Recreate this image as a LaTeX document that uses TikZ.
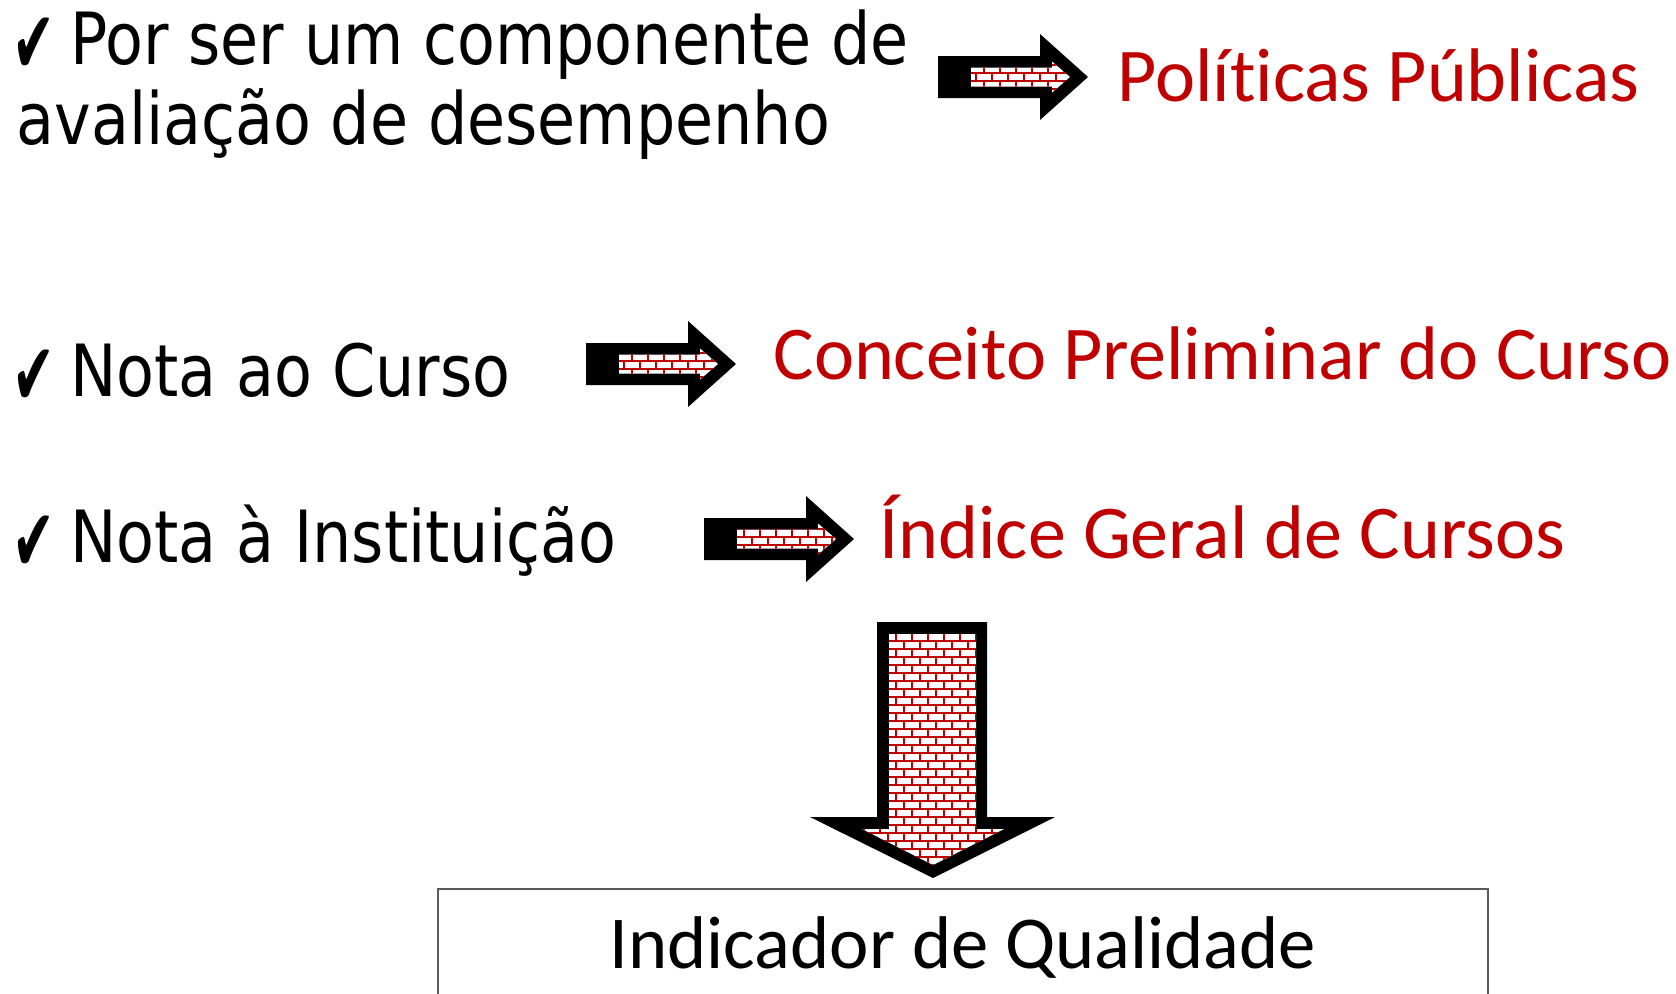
\documentclass[tikz,border=0pt]{standalone}
\usepackage{fontspec}
\setmainfont{DejaVu Sans}[FakeStretch=0.86]
\newfontfamily\redfont{Carlito}[Ligatures=NoCommon]
\newfontfamily\tickfont{DejaVu Sans}
\usepackage{tikz}
\usetikzlibrary{patterns}
\definecolor{myred}{RGB}{192, 0, 0}
\definecolor{boxgray}{RGB}{90, 90, 90}
\tikzset{every picture/.style={line width=0.75pt}}
\tikzset{
  blacktext/.style={anchor=base west, inner sep=0pt, font=\fontsize{54}{60}\selectfont},
  tick/.style={anchor=base west, inner sep=0pt, font=\tickfont\fontsize{66}{76}\selectfont},
  redtext/.style={anchor=base west, inner sep=0pt, text=myred, font=\redfont\fontsize{57}{64}\selectfont},
  boxtext/.style={anchor=base, inner sep=0pt, font=\redfont\fontsize{56}{64}\selectfont},
  arrowout/.style={fill=black, draw=none},
  arrowin/.style={fill=white, draw=none, postaction={pattern=brickwall, pattern color=myred}}
}
\pgfdeclarepatternformonly{brickwall}{\pgfqpoint{-1pt}{-1pt}}{\pgfqpoint{13pt}{13pt}}{\pgfqpoint{12pt}{12pt}}{
  \pgfsetlinewidth{1.9pt}
  \pgfpathmoveto{\pgfqpoint{0pt}{0pt}}\pgfpathlineto{\pgfqpoint{12pt}{0pt}}
  \pgfpathmoveto{\pgfqpoint{0pt}{6pt}}\pgfpathlineto{\pgfqpoint{12pt}{6pt}}
  \pgfpathmoveto{\pgfqpoint{0pt}{0pt}}\pgfpathlineto{\pgfqpoint{0pt}{6pt}}
  \pgfpathmoveto{\pgfqpoint{6pt}{6pt}}\pgfpathlineto{\pgfqpoint{6pt}{12pt}}
  \pgfusepath{stroke}
}

\begin{document}
\begin{tikzpicture}[x=0.75pt,y=0.75pt,yscale=-1,xscale=1]
\path[use as bounding box] (0,0) rectangle (1676,993);

%Shape: Right Arrow [id:politicas]
\draw  [arrowout] (938,56) -- (1040,56) -- (1040,34) -- (1088,77) -- (1040,120) -- (1040,98) -- (938,98) -- cycle ;
\draw  [arrowin] (971,67.5) -- (1052,67.5) -- (1052,61.5) -- (1070,77) -- (1052,92.5) -- (1052,86.5) -- (971,86.5) -- cycle ;
%Shape: Right Arrow [id:curso]
\draw  [arrowout] (586,343) -- (688,343) -- (688,321) -- (736,364) -- (688,407) -- (688,385) -- (586,385) -- cycle ;
\draw  [arrowin] (619,354.5) -- (700,354.5) -- (700,348.5) -- (718,364) -- (700,379.5) -- (700,373.5) -- (619,373.5) -- cycle ;
%Shape: Right Arrow [id:instituicao]
\draw  [arrowout] (704,518) -- (806,518) -- (806,496) -- (854,539) -- (806,582) -- (806,560) -- (704,560) -- cycle ;
\draw  [arrowin] (737,529.5) -- (818,529.5) -- (818,523.5) -- (836,539) -- (818,554.5) -- (818,548.5) -- (737,548.5) -- cycle ;
%Shape: Down Arrow [id:qualidade]
\draw  [arrowout] (877,622) -- (987,622) -- (987,817) -- (1055,817) -- (933,878) -- (810,817) -- (877,817) -- cycle ;
\draw  [arrowin] (889,634) -- (976,634) -- (976,829) -- (1004,829) -- (933,865) -- (862,829) -- (889,829) -- cycle ;
%Shape: Rectangle [id:caixa]
\draw  [draw=boxgray, line width=1.2pt] (438,889) -- (1488,889) -- (1488,1010) -- (438,1010) -- cycle ;

% Text Node
\node (tick1) [tick] at (12,73) {\scalebox{0.58}[1]{✔}};
\node (por) [blacktext] at (70,64) {Por ser um componente de};
\node (aval) [blacktext] at (16,144) {avaliação de desempenho};
% Text Node
\node (tick2) [tick] at (12,405) {\scalebox{0.58}[1]{✔}};
\node (nota1) [blacktext] at (70,396) {Nota ao Curso};
% Text Node
\node (tick3) [tick] at (12,571) {\scalebox{0.58}[1]{✔}};
\node (nota2) [blacktext] at (70,562) {Nota à Instituição};
% Text Node
\node (polpub) [redtext] at (1117,101) {Políticas Públicas};
\node (cpc) [redtext] at (773,379) {Conceito Preliminar do Curso};
\node (igc) [redtext] at (879,558) {Índice Geral de Cursos};
% Text Node
\node (indq) [boxtext] at (963,968) {Indicador de Qualidade};

\end{tikzpicture}
\end{document}
